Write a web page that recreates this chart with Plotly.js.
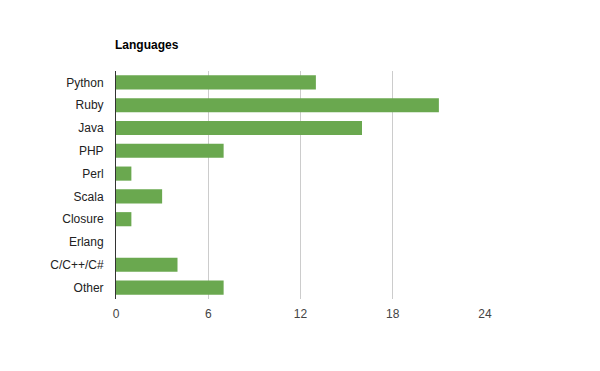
<!DOCTYPE html>
<html><head><meta charset="utf-8">
<script src="https://cdn.plot.ly/plotly-3.0.1.min.js"></script>
<style>body{margin:0;padding:0;background:#fff}#chart{width:600px;height:371px}</style>
</head><body><div id="chart"></div>
<script>
const categories = ["Python","Ruby","Java","PHP","Perl","Scala","Closure","Erlang","C/C++/C#","Other"];
const values = [13,21,16,7,1,3,1,0,4,7];
const xTicks = [0,6,12,18,24];

const trace = {
  type: 'bar', orientation: 'h',
  y: categories, x: values,
  marker: {color: '#6aa84f'},
  width: 0.62,
  hoverinfo: 'x+y'
};
const layout = {
  width: 600, height: 371,
  margin: {l: 116, r: 115, t: 71, b: 72},
  paper_bgcolor: '#fff', plot_bgcolor: '#fff',
  font: {family: 'Liberation Sans, Arial, sans-serif', size: 12, color: '#222'},
  title: {text: '<b>Languages</b>', x: 115/600, xanchor: 'left', y: 1-45/371, yanchor: 'middle',
          font: {size: 12, color: '#000', family: 'Liberation Sans, Arial, sans-serif'}},
  showlegend: false,
  xaxis: {range: [0, 24], tickvals: xTicks, ticktext: xTicks.map(String), showgrid: true, gridcolor: '#cccccc',
          zeroline: false, showline: false, ticks: '', ticklabelstandoff: 6, tickfont: {color: '#444'}},
  yaxis: {autorange: 'reversed', showline: true, linecolor: '#333', linewidth: 1, ticks: '',
          ticklabelstandoff: 9, tickfont: {color: '#222'}, showgrid: false}
};
Plotly.newPlot('chart', [trace], layout, {displayModeBar: false, staticPlot: true});
</script></body></html>
